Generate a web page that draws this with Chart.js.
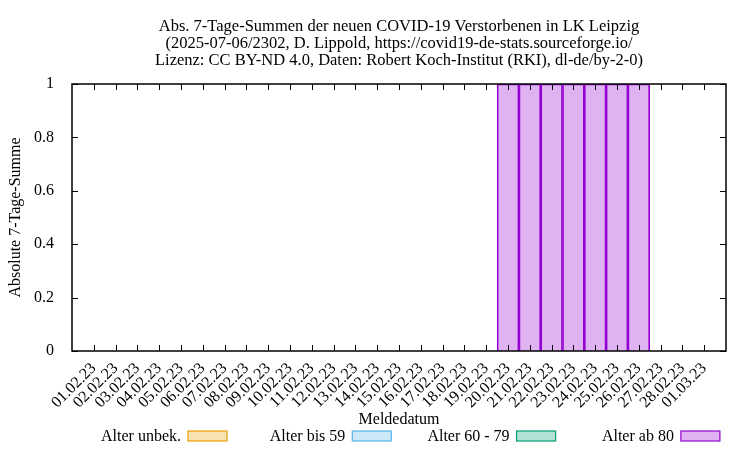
<!DOCTYPE html>
<html>
<head>
<meta charset="utf-8">
<script src="https://cdn.jsdelivr.net/npm/chart.js@4"></script>
<style>
  body { margin: 0; background: #fff; }
  #wrap { width: 750px; height: 450px; }
</style>
</head>
<body>
<div id="wrap"><canvas id="myChart" width="750" height="450"></canvas></div>
<script>
const dates = ['01.02.23','02.02.23','03.02.23','04.02.23','05.02.23','06.02.23','07.02.23',
  '08.02.23','09.02.23','10.02.23','11.02.23','12.02.23','13.02.23','14.02.23','15.02.23',
  '16.02.23','17.02.23','18.02.23','19.02.23','20.02.23','21.02.23','22.02.23','23.02.23',
  '24.02.23','25.02.23','26.02.23','27.02.23','28.02.23','01.03.23'];

const alterUnbek = [0,0,0,0,0,0,0,0,0,0,0,0,0,0,0,0,0,0,0,0,0,0,0,0,0,0,0,0,0];
const alterBis59 = [0,0,0,0,0,0,0,0,0,0,0,0,0,0,0,0,0,0,0,0,0,0,0,0,0,0,0,0,0];
const alter60bis79 = [0,0,0,0,0,0,0,0,0,0,0,0,0,0,0,0,0,0,0,0,0,0,0,0,0,0,0,0,0];
const alterAb80 = [0,0,0,0,0,0,0,0,0,0,0,0,0,0,0,0,0,0,0,1,1,1,1,1,1,1,0,0,0];

const yTicks = [0, 0.2, 0.4, 0.6, 0.8, 1];

const titleLines = [
  'Abs. 7-Tage-Summen der neuen COVID-19 Verstorbenen in LK Leipzig',
  '(2025-07-06/2302, D. Lippold, https://covid19-de-stats.sourceforge.io/',
  'Lizenz: CC BY-ND 4.0, Daten: Robert Koch-Institut (RKI), dl-de/by-2-0)'
];

const FONT = '"Liberation Serif", "DejaVu Serif", serif';

function toPoints(vals) {
  return vals.map((v, i) => ({ x: i, y: v }));
}

function series(label, vals, color) {
  return {
    label: label,
    data: toPoints(vals),
    backgroundColor: color.replace('rgb', 'rgba').replace(')', ',0.3)'),
    borderColor: color,
    borderWidth: 1,
    barPercentage: 1,
    categoryPercentage: 1,
    borderSkipped: 'start'
  };
}

// titles, inward ticks, frame and the gnuplot-style key
const gnuplotLook = {
  id: 'gnuplotLook',
  afterDraw(chart) {
    const c = chart.ctx;
    const a = chart.chartArea;
    const xs = chart.scales.x;
    const ys = chart.scales.y;

    c.save();
    c.fillStyle = '#000';
    c.font = '16.5px ' + FONT;
    c.textAlign = 'center';
    c.textBaseline = 'middle';
    const cx = (a.left + a.right) / 2;
    titleLines.forEach((t, i) => c.fillText(t, cx, 27 + i * 17));

    c.strokeStyle = '#000';
    c.lineWidth = 1;
    c.beginPath();
    yTicks.forEach(v => {
      const y = Math.round(ys.getPixelForValue(v)) + 0.5;
      c.moveTo(a.left, y); c.lineTo(a.left + 6, y);
      c.moveTo(a.right, y); c.lineTo(a.right - 6, y);
    });
    dates.forEach((d, i) => {
      const x = Math.round(xs.getPixelForValue(i)) + 0.5;
      c.moveTo(x, a.bottom); c.lineTo(x, a.bottom - 6);
      c.moveTo(x, a.top); c.lineTo(x, a.top + 6);
    });
    c.stroke();

    c.lineWidth = 1.5;
    c.strokeRect(a.left, a.top, a.right - a.left, a.bottom - a.top);

    // key
    c.font = '16px ' + FONT;
    c.textAlign = 'right';
    c.lineWidth = 1.2;
    chart.data.datasets.forEach((ds, i) => {
      const boxRight = 227 + i * 164.3;
      const boxLeft = boxRight - 39;
      c.fillStyle = ds.backgroundColor;
      c.fillRect(boxLeft, 431, 39, 10);
      c.strokeStyle = ds.borderColor;
      c.strokeRect(boxLeft, 431, 39, 10);
      c.fillStyle = '#000';
      c.fillText(ds.label, boxLeft - 7, 437);
    });
    c.restore();
  }
};

const ctx = document.getElementById('myChart');
const myChart = new Chart(ctx, {
  type: 'bar',
  data: {
    datasets: [
      series('Alter unbek.', alterUnbek, 'rgb(230,159,0)'),
      series('Alter bis 59', alterBis59, 'rgb(86,180,233)'),
      series('Alter 60 - 79', alter60bis79, 'rgb(0,158,115)'),
      series('Alter ab 80', alterAb80, 'rgb(148,0,211)')
    ]
  },
  options: {
    responsive: false,
    animation: false,
    layout: { padding: { left: 6, right: 24, top: 84, bottom: 20 } },
    plugins: {
      legend: { display: false },
      title: { display: false },
      tooltip: { enabled: false }
    },
    scales: {
      x: {
        type: 'linear',
        offset: false,
        stacked: true,
        min: -1,
        max: 29,
        grid: { display: false },
        border: { display: false },
        afterFit: s => { s.height = 79; },
        afterBuildTicks: s => { s.ticks = dates.map((d, i) => ({ value: i })); },
        ticks: {
          autoSkip: false,
          minRotation: 45,
          maxRotation: 45,
          padding: 0,
          color: '#000',
          font: { family: FONT, size: 16 },
          callback: v => dates[v] || ''
        },
        title: {
          display: true,
          text: 'Meldedatum',
          color: '#000',
          padding: { top: 0, bottom: 1 },
          font: { family: FONT, size: 16 }
        }
      },
      y: {
        stacked: true,
        min: 0,
        max: 1,
        grid: { display: false },
        border: { display: false },
        afterFit: s => { s.width = 66; },
        afterBuildTicks: s => { s.ticks = yTicks.map(v => ({ value: v })); },
        ticks: {
          padding: 10,
          color: '#000',
          font: { family: FONT, size: 16 },
          callback: v => String(v)
        },
        title: {
          display: true,
          text: 'Absolute 7-Tage-Summe',
          color: '#000',
          padding: 0,
          font: { family: FONT, size: 16 }
        }
      }
    }
  },
  plugins: [gnuplotLook]
});
</script>
</body>
</html>
